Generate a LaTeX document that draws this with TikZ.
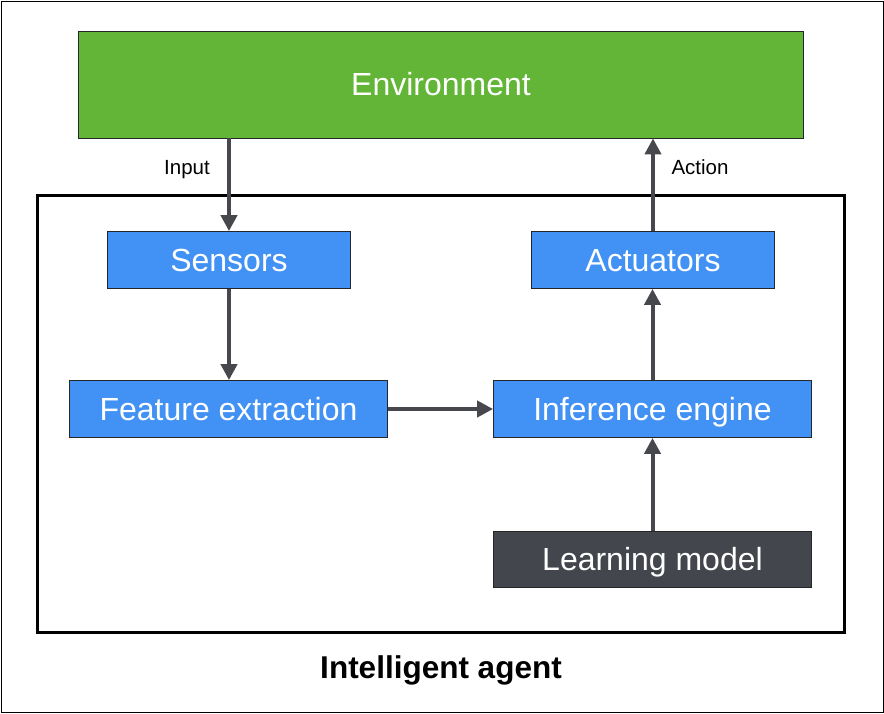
\documentclass[tikz,border=0pt]{standalone}
\usepackage{fontspec}
\setmainfont{Liberation Sans}
\usetikzlibrary{arrows.meta}
\definecolor{envgreen}{HTML}{62B536}
\definecolor{boxblue}{HTML}{4291F4}
\definecolor{boxdark}{HTML}{43464C}
\definecolor{arrowgray}{HTML}{46484D}
\begin{document}
\begin{tikzpicture}[x=1pt,y=-1pt,
  box/.style={draw=black!85,line width=0.8pt,fill=boxblue,text=white,inner sep=0pt,
    font=\fontsize{32}{38}\selectfont,text height=23pt,text depth=1pt},
  conn/.style={draw=arrowgray,line width=4pt,-{Triangle[length=16pt,width=16pt]}},
  lbl/.style={font=\fontsize{20.5}{24}\selectfont,text=black,inner sep=0pt,anchor=base}]
\useasboundingbox (0,0) rectangle (884,713);
\draw[line width=1pt] (1,1) rectangle (883,712);
% agent frame
\node[draw=black,line width=3pt,minimum width=807pt,minimum height=437pt,inner sep=0pt] (agent) at (441,413.5) {};
\node[font=\bfseries\fontsize{31.5}{36}\selectfont,inner sep=0pt,anchor=base] (agentlbl) at (441,678) {Intelligent agent};
% boxes
\node[box,fill=envgreen,minimum width=725pt,minimum height=107pt] (env) at (441,84.5) {Environment};
\node[box,minimum width=243pt,minimum height=57pt] (sens) at (229,260) {Sensors};
\node[box,minimum width=243pt,minimum height=57pt] (act) at (653,260) {Actuators};
\node[box,minimum width=318pt,minimum height=57pt] (feat) at (228.5,409) {Feature extraction};
\node[box,minimum width=318pt,minimum height=57pt] (inf) at (652.5,409) {Inference engine};
\node[box,fill=boxdark,minimum width=318pt,minimum height=56pt] (learn) at (652.5,559) {Learning model};
% connectors
\draw[conn] (env.south -| sens.north) -- (sens.north);
\draw[conn] (sens.south) -- (sens.south |- feat.north);
\draw[conn] (feat.east) -- (inf.west);
\draw[conn] (learn.north) -- (inf.south);
\draw[conn] (inf.north) -- (inf.north |- act.south);
\draw[conn] (act.north) -- (act.north |- env.south);
% labels
\node[lbl] (inlbl) at (187,174) {Input};
\node[lbl] (actlbl) at (700,174) {Action};
\end{tikzpicture}
\end{document}
